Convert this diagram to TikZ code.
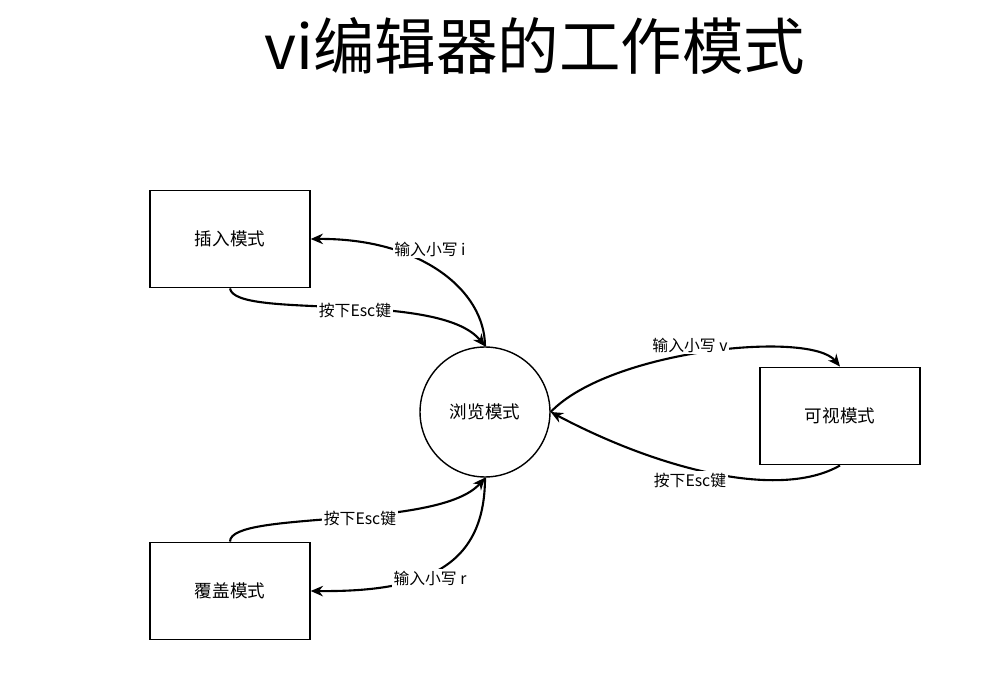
\documentclass[tikz,border=0pt]{standalone}
\usepackage{fontspec}
\setmainfont{Noto Sans CJK SC}
\usetikzlibrary{arrows.meta}
\tikzset{
  mode/.style={draw, thick, minimum width=3.2cm, minimum height=1.95cm, font=\fontsize{10}{12}\selectfont},
  lbl/.style={fill=white, inner sep=1pt, font=\fontsize{9}{11}\selectfont},
  conn/.style={very thick, -{Stealth[length=7pt,width=6pt]}}
}
\begin{document}
\begin{tikzpicture}[x=0.02cm,y=-0.02cm]
\useasboundingbox (0,0) rectangle (1008,692);
\node (title) at (535,46) {\fontsize{35}{38}\selectfont vi编辑器的工作模式};
\node[mode] (insert) at (230,239) {插入模式};
\node[mode] (cover) at (230,591) {覆盖模式};
\node[mode] (visual) at (840,416) {可视模式};
\node[draw, thick, circle, minimum size=2.6cm, font=\fontsize{10}{12}\selectfont] (browse) at (485,412) {浏览模式};
% insert mode
\draw[conn] (browse.north) .. controls (485,290) and (420,238) .. (insert.east);
\draw[conn] (insert.south) .. controls (235,320) and (440,290) .. (browse.north);
\node[lbl] (li) at (430,249) {输入小写 i};
\node[lbl] (le1) at (355,310) {按下Esc键};
% visual mode
\draw[conn] (browse.east) .. controls (610,350) and (810,330) .. (visual.north);
\draw[conn] (visual.south) .. controls (780,500) and (660,470) .. (browse.east);
\node[lbl] (lv) at (690,345) {输入小写 v};
\node[lbl] (le2) at (690,480) {按下Esc键};
% cover mode
\draw[conn] (cover.north) .. controls (230,510) and (440,530) .. (browse.south);
\draw[conn] (browse.south) .. controls (485,570) and (420,592) .. (cover.east);
\node[lbl] (le3) at (360,518) {按下Esc键};
\node[lbl] (lr) at (430,578) {输入小写 r};
\end{tikzpicture}
\end{document}
